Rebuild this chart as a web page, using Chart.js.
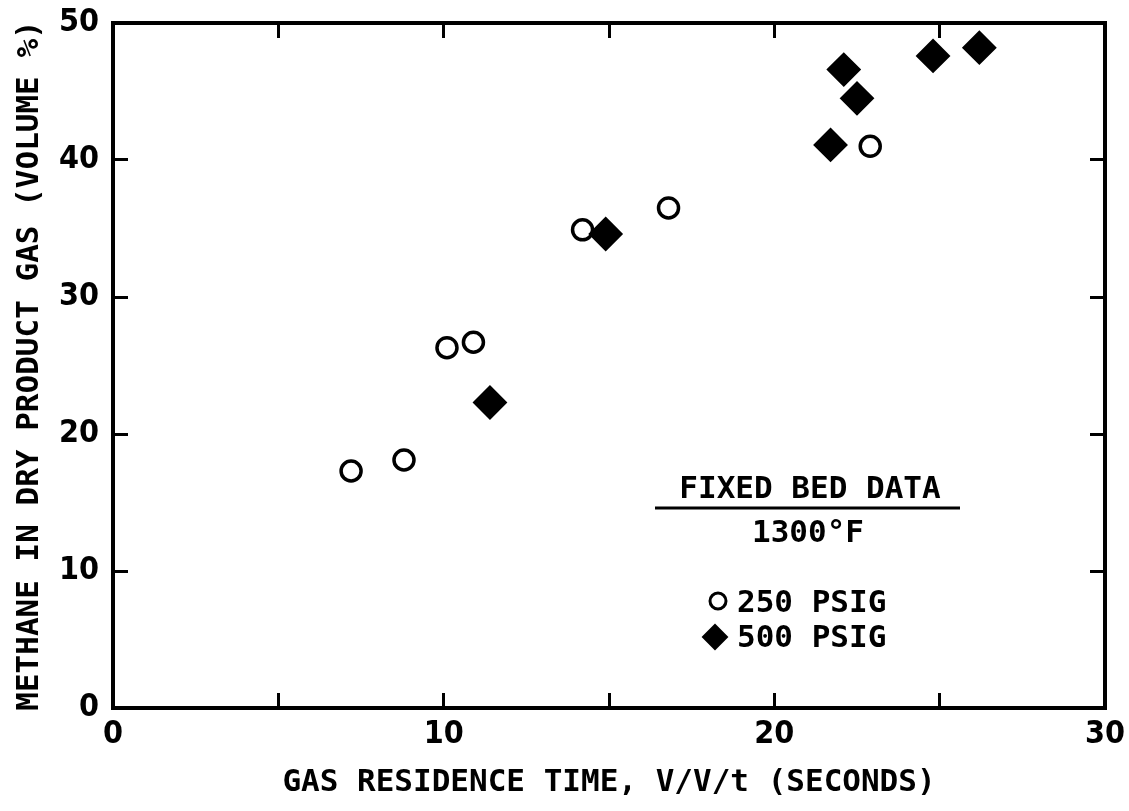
<!DOCTYPE html>
<html>
<head>
<meta charset="utf-8">
<title>Methane vs gas residence time</title>
<script src="https://cdn.jsdelivr.net/npm/chart.js@4.4.1/dist/chart.umd.min.js"></script>
<style>
  html, body { margin: 0; padding: 0; background: #fff; }
  #wrap { width: 1129px; height: 811px; }
</style>
</head>
<body>
<div id="wrap"><canvas id="methaneChart" width="1129" height="811"></canvas></div>
<script>
// fixed bed runs at 1300 F: residence time (s) vs methane in dry gas (vol %)
const psig250Time = [7.2, 8.8, 10.1, 10.9, 14.2, 16.8, 22.9];
const psig250Methane = [17.3, 18.1, 26.3, 26.7, 34.9, 36.5, 41.0];
const psig500Time = [11.4, 14.9, 21.7, 22.1, 22.5, 24.8, 26.2];
const psig500Methane = [22.3, 34.6, 41.1, 46.6, 44.5, 47.6, 48.2];

const xTickLabels = [0, 10, 20, 30];
const yTickLabels = [0, 10, 20, 30, 40, 50];

const INK = "#000";
const tickFont = { family: "'Liberation Sans Narrow', 'DejaVu Sans Condensed', sans-serif", size: 32, weight: "bold" };
const textFont = { family: "'DejaVu Sans Mono', monospace", size: 31, weight: "bold" };

const toPoints = (xs, ys) => xs.map((x, i) => ({ x: x, y: ys[i] }));

// fixed box size per axis, and no extra room for labels hanging past the ends
const fixBox = (w, h) => (s) => {
  if (w !== null) s.width = w;
  if (h !== null) s.height = h;
  s.paddingLeft = 0;
  s.paddingRight = 0;
  s.paddingTop = 0;
  s.paddingBottom = 0;
};

// shared look for the frame: inward ticks, heavy border
const frameGrid = { drawOnChartArea: false, drawTicks: true, tickLength: -15, tickWidth: 3, color: INK };
const frameBorder = { display: true, width: 4, color: INK };

// legend block sitting inside the plot, drawn by hand
const fixedBedLegend = {
  id: "fixedBedLegend",
  afterDatasetsDraw(chart) {
    const { ctx } = chart;
    ctx.save();
    ctx.fillStyle = INK;
    ctx.strokeStyle = INK;
    ctx.font = "bold 31px 'DejaVu Sans Mono', monospace";
    ctx.textBaseline = "alphabetic";

    ctx.textAlign = "center";
    ctx.fillText("FIXED BED DATA", 810, 498);
    ctx.lineWidth = 3;
    ctx.beginPath();
    ctx.moveTo(655, 508);
    ctx.lineTo(960, 508);
    ctx.stroke();
    ctx.fillText("1300\u00B0F", 808, 542);

    ctx.textAlign = "left";
    ctx.fillText("250 PSIG", 737, 612);
    ctx.fillText("500 PSIG", 737, 647);

    ctx.fillStyle = "rgba(0,0,0,0)";
    ctx.lineWidth = 3;
    Chart.helpers.drawPoint(ctx, { pointStyle: "circle", radius: 8, borderWidth: 3, rotation: 0 }, 718, 601);
    ctx.fillStyle = INK;
    ctx.lineWidth = 2;
    Chart.helpers.drawPoint(ctx, { pointStyle: "rectRot", radius: 12, borderWidth: 2, rotation: 0 }, 715, 637);
    ctx.restore();
  }
};

new Chart(document.getElementById("methaneChart"), {
  type: "scatter",
  data: {
    datasets: [
      {
        label: "250 PSIG",
        data: toPoints(psig250Time, psig250Methane),
        pointStyle: "circle",
        pointRadius: 10,
        pointHoverRadius: 10,
        borderWidth: 3.5,
        borderColor: INK,
        backgroundColor: "rgba(0,0,0,0)"
      },
      {
        label: "500 PSIG",
        data: toPoints(psig500Time, psig500Methane),
        pointStyle: "rectRot",
        pointRadius: 16,
        pointHoverRadius: 16,
        borderWidth: 2,
        borderColor: INK,
        backgroundColor: INK
      }
    ]
  },
  options: {
    responsive: false,
    animation: false,
    devicePixelRatio: 1,
    layout: { padding: 0 },
    plugins: { legend: { display: false }, tooltip: { enabled: false } },
    scales: {
      x: {
        type: "linear",
        position: "bottom",
        min: 0,
        max: 30,
        afterFit: fixBox(null, 103),
        ticks: {
          stepSize: 5,
          autoSkip: false,
          maxRotation: 0,
          padding: 22,
          color: INK,
          font: tickFont,
          callback: (v) => (xTickLabels.includes(v) ? v : "")
        },
        grid: frameGrid,
        border: frameBorder,
        title: {
          display: true,
          text: "GAS RESIDENCE TIME, V/V/t (SECONDS)",
          color: INK,
          font: textFont,
          padding: { top: 0, bottom: 9 }
        }
      },
      y: {
        type: "linear",
        position: "left",
        min: 0,
        max: 50,
        afterFit: fixBox(113, null),
        ticks: {
          stepSize: 10,
          padding: 29,
          color: INK,
          font: tickFont,
          callback: (v) => (yTickLabels.includes(v) ? v : "")
        },
        grid: frameGrid,
        border: frameBorder,
        title: {
          display: true,
          text: "METHANE IN DRY PRODUCT GAS (VOLUME %)",
          color: INK,
          font: textFont,
          padding: { top: 11, bottom: 0 }
        }
      },
      x2: {
        type: "linear",
        axis: "x",
        position: "top",
        min: 0,
        max: 30,
        afterFit: fixBox(null, 23),
        ticks: { stepSize: 5, display: false },
        grid: frameGrid,
        border: frameBorder
      },
      y2: {
        type: "linear",
        axis: "y",
        position: "right",
        min: 0,
        max: 50,
        afterFit: fixBox(24, null),
        ticks: { stepSize: 10, display: false },
        grid: frameGrid,
        border: frameBorder
      }
    }
  },
  plugins: [fixedBedLegend]
});
</script>
</body>
</html>
